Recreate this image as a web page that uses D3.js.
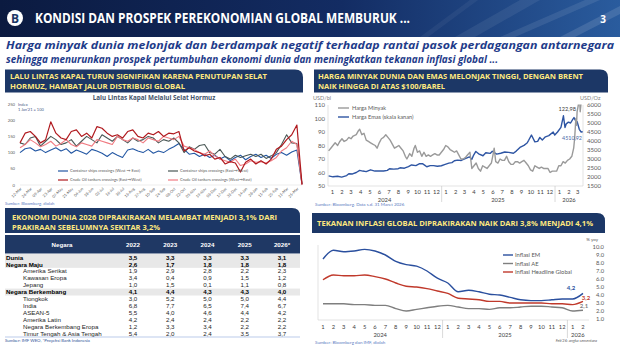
<!DOCTYPE html>
<html><head><meta charset="utf-8">
<script src="https://cdn.jsdelivr.net/npm/d3@7"></script>
<style>body{margin:0;background:#fff}svg{display:block}</style>
</head><body>
<svg id="c" width="620" height="349"></svg>
<script>
// ---------------- DATA ----------------
// Top-left: ship traffic through Hormuz (index, 1 Jan'21 = 100), weekly
const shipLabels = ["12-Mar","26-Mar","09-Apr","23-Apr","07-May","21-May","04-Jun","18-Jun","02-Jul","16-Jul","30-Jul","13-Aug","27-Aug","10-Sep","24-Sep","08-Oct","22-Oct","05-Nov","19-Nov","03-Dec","17-Dec","31-Dec","14-Jan","28-Jan","11-Feb","25-Feb","11-Mar","25-Mar"];
const containerWE = [100,112,115,105,110,100,108,115,105,112,98,108,102,95,110,105,98,88,100,92,85,108,112,105,100,110,98,105,100,110,118,128,110,95,98,88,95,85,92,80,88,75,85,92,78,88,95,85,92,82,95,100,92,102,108,2];
const containerEW = [130,125,145,150,120,135,150,140,125,130,140,120,135,150,140,130,155,145,135,150,140,130,145,135,140,150,145,130,140,135,145,130,100,118,110,122,125,100,95,110,88,80,92,85,90,95,88,95,82,90,100,125,155,130,128,3];
const crudeEW = [130,160,165,150,130,140,195,160,145,140,165,170,150,160,145,180,175,160,150,155,145,165,170,150,145,160,155,165,150,160,158,165,105,115,105,100,90,95,80,85,65,72,68,40,70,80,65,75,65,80,110,120,140,155,185,2];
const crudeWE = [115,125,140,130,118,125,135,120,128,140,125,118,130,125,120,140,135,130,125,150,140,135,145,140,130,145,140,135,150,145,140,150,120,115,110,100,95,105,90,80,75,70,80,60,65,75,70,72,68,75,85,105,115,135,125,0];
const shipSeriesNames = ["Container ships crossings (West \u2192 East)","Container ships crossings (East\u2192West)","Crude Oil tankers crossings (East\u2192West)","Crude Oil tankers crossings (West\u2192East)"];
const shipTicks = [0,50,100,150,200,250];

// Top-right: oil (USD/bl) and gold (USD/Oz)
const oilDates = ["2024-01-03","2024-01-10","2024-01-17","2024-01-24","2024-02-01","2024-02-08","2024-02-15","2024-02-22","2024-03-01","2024-03-08","2024-03-15","2024-03-22","2024-04-01","2024-04-08","2024-04-12","2024-04-19","2024-04-26","2024-05-03","2024-05-10","2024-05-17","2024-05-24","2024-06-01","2024-06-07","2024-06-14","2024-06-21","2024-06-28","2024-07-05","2024-07-12","2024-07-19","2024-07-26","2024-08-02","2024-08-09","2024-08-16","2024-08-23","2024-08-30","2024-09-06","2024-09-11","2024-09-20","2024-09-27","2024-10-04","2024-10-08","2024-10-15","2024-10-22","2024-10-29","2024-11-05","2024-11-12","2024-11-19","2024-11-26","2024-12-03","2024-12-10","2024-12-17","2024-12-24","2024-12-31","2025-01-07","2025-01-14","2025-01-21","2025-01-28","2025-02-04","2025-02-11","2025-02-18","2025-02-25","2025-03-04","2025-03-11","2025-03-18","2025-03-25","2025-04-02","2025-04-08","2025-04-15","2025-04-22","2025-04-29","2025-05-06","2025-05-13","2025-05-20","2025-05-27","2025-06-03","2025-06-10","2025-06-16","2025-06-19","2025-06-24","2025-07-01","2025-07-08","2025-07-15","2025-07-22","2025-07-29","2025-08-05","2025-08-12","2025-08-19","2025-08-26","2025-09-02","2025-09-09","2025-09-16","2025-09-23","2025-09-30","2025-10-07","2025-10-14","2025-10-21","2025-10-28","2025-11-04","2025-11-11","2025-11-18","2025-11-25","2025-12-02","2025-12-09","2025-12-16","2025-12-23","2025-12-30","2026-01-06","2026-01-13","2026-01-20","2026-01-27","2026-02-03","2026-02-10","2026-02-17","2026-02-24","2026-03-02","2026-03-05","2026-03-09","2026-03-11","2026-03-13","2026-03-17","2026-03-19","2026-03-23","2026-03-26","2026-03-31"];
const oilPrice = [76,78,80,82,80,83,85,83,84,86,85,87,88,91,92,88,89,84,83,82,81,80,78,82,85,86,88,86,84,81,78,79,80,78,76,72,70,74,72,78,80,75,76,72,75,72,73,72,73,74,73,73,75,77,80,79,77,76,75,76,73,70,70,71,73,75,63,65,67,63,61,65,64,63,65,67,74,78,68,67,70,69,69,72,68,66,66,68,68,67,68,69,67,65,62,61,65,64,63,64,63,63,63,60,61,61,61,65,65,68,67,69,70,72,78,85,100,95,105,110,122.98,105,112,118];
const goldDates = ["2024-01-03","2024-01-17","2024-02-01","2024-02-14","2024-03-01","2024-03-08","2024-03-20","2024-04-01","2024-04-12","2024-04-22","2024-05-03","2024-05-17","2024-05-31","2024-06-14","2024-06-28","2024-07-10","2024-07-17","2024-07-31","2024-08-14","2024-08-20","2024-09-03","2024-09-16","2024-09-26","2024-10-10","2024-10-22","2024-10-31","2024-11-07","2024-11-14","2024-11-25","2024-12-06","2024-12-18","2024-12-31","2025-01-10","2025-01-24","2025-02-03","2025-02-11","2025-02-21","2025-03-05","2025-03-14","2025-03-31","2025-04-08","2025-04-14","2025-04-21","2025-04-30","2025-05-14","2025-05-23","2025-06-06","2025-06-13","2025-06-27","2025-07-10","2025-07-23","2025-08-05","2025-08-20","2025-08-29","2025-09-10","2025-09-23","2025-10-03","2025-10-08","2025-10-17","2025-10-28","2025-11-06","2025-11-13","2025-11-21","2025-12-01","2025-12-12","2025-12-26","2025-12-31","2026-01-09","2026-01-20","2026-01-28","2026-02-02","2026-02-06","2026-02-13","2026-02-20","2026-02-27","2026-03-03","2026-03-09","2026-03-13","2026-03-20","2026-03-26","2026-03-31"];
const goldPrice = [2060,2010,2040,1995,2080,2180,2170,2250,2370,2330,2300,2400,2330,2330,2330,2370,2460,2440,2460,2510,2490,2580,2670,2630,2740,2740,2660,2570,2630,2630,2600,2625,2690,2770,2800,2900,2940,2920,2990,3120,2980,3220,3420,3290,3180,3350,3310,3430,3270,3320,3390,3370,3320,3440,3640,3760,3890,4040,4330,3950,3980,4200,4060,4230,4300,4500,4330,4500,4760,5400,4750,4950,5050,5000,5200,5300,5100,5080,4650,4500,4510.92];
const oilTicks = [50,60,70,80,90,100,110];
const goldTicks = [1500,2000,2500,3000,3500,4000,4500,5000,5500,6000];
const priceMonths = ["2024-01","2024-02","2024-03","2024-04","2024-05","2024-06","2024-07","2024-08","2024-09","2024-10","2024-11","2024-12","2025-01","2025-02","2025-03","2025-04","2025-05","2025-06","2025-07","2025-08","2025-09","2025-10","2025-11","2025-12","2026-01","2026-02","2026-03"];

// Bottom-left: IMF growth table
const tableYears = ["2022","2023","2024","2025","2026*"];
const tableRows = ["Dunia","Negara Maju","Amerika Serikat","Kawasan Eropa","Jepang","Negara Berkembang","Tiongkok","India","ASEAN-5","Amerika Latin","Negara Berkembang Eropa","Timur Tengah & Asia Tengah"];
const tableBold = ["Dunia","Negara Maju","Negara Berkembang"];
const tableValues = [
  [3.5,3.3,3.3,3.3,3.1],
  [2.6,1.7,1.8,1.8,1.8],
  [1.9,2.9,2.8,2.2,2.3],
  [3.4,0.4,0.9,1.5,1.2],
  [1.0,1.5,0.1,1.1,0.8],
  [4.1,4.4,4.3,4.3,4.0],
  [3.0,5.2,5.0,5.0,4.4],
  [6.8,7.7,6.5,7.4,6.7],
  [5.5,4.0,4.6,4.4,4.2],
  [4.2,2.4,2.4,2.2,2.2],
  [1.2,3.3,3.4,2.2,2.2],
  [5.4,2.0,2.4,3.5,3.7]
];

// Bottom-right: inflation (% yoy), monthly Jan 2024 - Feb 2026
const inflMonths = ["1","2","3","4","5","6","7","8","9","10","11","12","1","2","3","4","5","6","7","8","9","10","11","12","1","2"];
const inflYears = ["2024","2025","2026"];
const inflEM = [8.5,9.6,9.4,9.5,9.7,9.5,9.0,8.2,7.8,7.6,7.0,6.1,5.5,4.4,4.6,4.4,4.1,4.0,3.7,3.4,3.3,3.3,3.4,3.5,3.5,4.2];
const inflAE = [2.9,2.9,2.9,2.8,2.8,2.7,2.7,2.3,2.0,2.2,2.4,2.6,2.7,2.5,2.3,2.3,2.2,2.4,2.4,2.5,2.6,2.6,2.5,2.4,2.0,2.1];
const inflHeadline = [5.9,6.5,6.4,6.4,6.5,6.3,6.0,5.5,5.1,5.0,4.8,4.5,4.2,3.6,3.5,3.4,3.2,3.2,3.0,3.0,3.0,3.0,2.9,2.9,2.8,3.2];
const inflNames = ["Inflasi EM","Inflasi AE","Inflasi Headline Global"];
const inflTicks = [1,2,3,4,5,6,7,8,9,10];

// ---------------- DRAWING ----------------
const svg = d3.select("#c");
const NAVY = "#1c3766", GOLD = "#ffe97f";
const HF = "'Open Sans', sans-serif", TF = "'Liberation Sans', Arial, sans-serif", CF = "Lato, 'Open Sans', sans-serif";
const comma = d3.formatLocale({decimal:",",thousands:".",grouping:[3],currency:["",""]});
const f1 = comma.format(".1f"), f2 = comma.format(".2f");

function fitText(g, x, y, s, len, o) {
  const t = g.append("text").attr("x", x).attr("y", y).text(s)
    .attr("font-family", o.family || HF).attr("font-size", o.size).attr("font-weight", o.weight || 400)
    .attr("fill", o.fill || "#000");
  if (o.style) t.attr("font-style", o.style);
  if (len) t.attr("textLength", len).attr("lengthAdjust", o.adjust || "spacingAndGlyphs");
  return t;
}
function headerBox(x, y, w, h, r, lines) {
  svg.append("path").attr("d", `M${x},${y}H${x+w-r}Q${x+w},${y} ${x+w},${y+r}V${y+h}H${x}Z`).attr("fill", NAVY);
  lines.forEach(l => fitText(svg, l.x, l.y, l.t, l.len, {size:7.6, weight:700, fill:GOLD}));
}

// Top banner
const defs = svg.append("defs");
const lg = defs.append("linearGradient").attr("id","ban").attr("x1",0).attr("x2",1).attr("y1",0).attr("y2",0);
lg.append("stop").attr("offset","0%").attr("stop-color","#0b1a40");
lg.append("stop").attr("offset","55%").attr("stop-color","#132c63");
lg.append("stop").attr("offset","100%").attr("stop-color","#2a5c9e");
svg.append("rect").attr("x",0).attr("y",0).attr("width",620).attr("height",37).attr("fill","url(#ban)");
[["455,37 520,0 540,0 475,37",0.07],["500,37 585,0 600,0 515,37",0.09],["560,37 620,6 620,14 575,37",0.12],["420,37 470,0 478,0 428,37",0.05]]
  .forEach(p => svg.append("polygon").attr("points",p[0]).attr("fill","#ffffff").attr("opacity",p[1]));
svg.append("circle").attr("cx",15).attr("cy",18).attr("r",8).attr("fill","#fff");
svg.append("text").attr("x",15).attr("y",22.5).attr("text-anchor","middle").attr("font-family",HF).attr("font-weight",700).attr("font-size",12).attr("fill",NAVY).text("B");
fitText(svg, 35, 23, "KONDISI DAN PROSPEK PEREKONOMIAN GLOBAL MEMBURUK ...", 375, {size:13.5, weight:700, fill:"#fff"});
svg.append("text").attr("x",603).attr("y",23).attr("text-anchor","middle").attr("font-family",HF).attr("font-weight",700).attr("font-size",10).attr("fill","#fff").text("3");

// Subtitle
fitText(svg, 6, 49, "Harga minyak dunia melonjak dan berdampak negatif terhadap rantai pasok perdagangan antarnegara", 608, {size:11, weight:700, style:"italic", fill:"#1f3c8a"});
fitText(svg, 6, 63, "sehingga menurunkan prospek pertumbuhan ekonomi dunia dan meningkatkan tekanan inflasi global ...", 492, {size:11, weight:700, style:"italic", fill:"#1f3c8a"});

// Section headers
headerBox(5, 69.5, 298, 23, 8, [{x:10,y:78.5,t:"LALU LINTAS KAPAL TURUN SIGNIFIKAN KARENA PENUTUPAN SELAT",len:257},{x:10,y:89,t:"HORMUZ, HAMBAT JALUR DISTRIBUSI GLOBAL",len:175}]);
headerBox(314, 69.5, 294, 23, 8, [{x:318,y:78.5,t:"HARGA MINYAK DUNIA DAN EMAS MELONJAK TINGGI, DENGAN BRENT",len:265},{x:318,y:89,t:"NAIK HINGGA DI ATAS $100/BAREL",len:127}]);
headerBox(5, 208, 295, 25, 8, [{x:12,y:220,t:"EKONOMI DUNIA 2026 DIPRAKIRAKAN MELAMBAT MENJADI 3,1% DARI",len:265},{x:12,y:229.5,t:"PRAKIRAAN SEBELUMNYA SEKITAR 3,2%",len:148}]);
headerBox(312, 213, 293, 20, 8, [{x:317,y:225.5,t:"TEKANAN INFLASI GLOBAL DIPRAKIRAKAN NAIK DARI 3,8% MENJADI 4,1%",len:276}]);

// ---------- Top-left chart ----------
{
  const g = svg.append("g");
  const x = d3.scaleLinear().domain([0, containerWE.length - 1]).range([20, 302]);
  const y = d3.scaleLinear().domain([0, 250]).range([185, 104]);
  g.append("text").attr("x",154).attr("y",99.5).attr("text-anchor","middle").attr("font-family",HF).attr("font-weight",700).attr("font-size",6.3).attr("fill","#44546a").text("Lalu Lintas Kapal Melalui Selat Hormuz");
  g.selectAll(".yt").data(shipTicks).join("text").attr("x",15).attr("y",d=>y(d)+1.5).attr("text-anchor","end")
    .attr("font-family",CF).attr("font-size",4.2).attr("fill","#595959").text(d=>d);
  g.append("text").attr("x",18).attr("y",105.5).attr("font-family",CF).attr("font-size",4).attr("fill","#4a5a8a").text("Index");
  g.append("text").attr("x",18).attr("y",110.5).attr("font-family",CF).attr("font-size",4).attr("fill","#4a5a8a").text("1 Jan'21 = 100");
  g.append("line").attr("x1",20).attr("x2",302).attr("y1",y(0)).attr("y2",y(0)).attr("stroke","#d9d9d9").attr("stroke-width",0.5);
  const series = [
    {v: containerWE, c: "#2357a3", w: 1.1},
    {v: containerEW, c: "#4a5856", w: 1.1},
    {v: crudeWE, c: "#f07b82", w: 1.1},
    {v: crudeEW, c: "#b0191e", w: 1.2}
  ];
  const line = d3.line().x((d,i)=>x(i)).y(d=>y(d));
  series.forEach(s => g.append("path").attr("d", line(s.v)).attr("fill","none").attr("stroke",s.c).attr("stroke-width",s.w).attr("stroke-linejoin","round"));
  shipLabels.forEach((lab, k) => {
    const px = x(k * 2);
    g.append("text").attr("transform",`translate(${px+2},${189}) rotate(-45)`).attr("text-anchor","end")
      .attr("font-family",CF).attr("font-size",3.8).attr("fill","#595959").text(lab);
  });
  const leg = [
    {n: shipSeriesNames[0], c:"#2357a3", lx:58, ly:171},
    {n: shipSeriesNames[1], c:"#4a5856", lx:168, ly:171},
    {n: shipSeriesNames[2], c:"#b0191e", lx:58, ly:180},
    {n: shipSeriesNames[3], c:"#f07b82", lx:168, ly:180}
  ];
  leg.forEach(l => {
    g.append("line").attr("x1",l.lx).attr("x2",l.lx+10).attr("y1",l.ly).attr("y2",l.ly).attr("stroke",l.c).attr("stroke-width",1.2);
    g.append("text").attr("x",l.lx+12).attr("y",l.ly+1.4).attr("font-family",CF).attr("font-size",4).attr("fill","#595959").text(l.n);
  });
  g.append("text").attr("x",5).attr("y",205).attr("font-family",CF).attr("font-size",4.2).attr("fill","#5b7bbf").text("Sumber: Bloomberg, diolah");
}

// ---------- Top-right chart ----------
{
  const g = svg.append("g");
  const parse = d3.timeParse("%Y-%m-%d"), pm = d3.timeParse("%Y-%m");
  const x = d3.scaleTime().domain([new Date(2024,0,1), new Date(2026,3,1)]).range([328, 583]);
  const yO = d3.scaleLinear().domain([50,110]).range([186,105]);
  const yG = d3.scaleLinear().domain([1500,6000]).range([186,105]);
  defs.append("clipPath").attr("id","clipTR").append("rect").attr("x",326).attr("y",104.5).attr("width",260).attr("height",83);
  g.append("text").attr("x",313).attr("y",99.5).attr("font-family",CF).attr("font-size",5.5).attr("fill","#7f7f7f").text("USD/bl");
  g.append("text").attr("x",580).attr("y",99.5).attr("font-family",CF).attr("font-size",5.5).attr("fill","#7f7f7f").text("USD/Oz");
  g.selectAll(".lo").data(oilTicks).join("text").attr("x",325).attr("y",d=>yO(d)+2).attr("text-anchor","end")
    .attr("font-family",CF).attr("font-size",6).attr("fill","#595959").text(d=>d);
  g.selectAll(".rg").data(goldTicks).join("text").attr("x",587).attr("y",d=>yG(d)+2).attr("text-anchor","start")
    .attr("font-family",CF).attr("font-size",6).attr("fill","#595959").text(d=>d);
  g.append("path").attr("d","M328,105V186H583V105").attr("fill","none").attr("stroke","#d0d0d0").attr("stroke-width",0.6);
  priceMonths.forEach(m => {
    const d0 = pm(m), mid = new Date(d0.getFullYear(), d0.getMonth(), 15);
    g.append("text").attr("x",x(mid)).attr("y",194).attr("text-anchor","middle").attr("font-family",CF).attr("font-size",5.8).attr("fill","#404040").text(d0.getMonth()+1);
  });
  [new Date(2025,0,1), new Date(2026,0,1)].forEach(d => g.append("line").attr("x1",x(d)).attr("x2",x(d)).attr("y1",186).attr("y2",202).attr("stroke","#bfbfbf").attr("stroke-width",0.6));
  [["2024",new Date(2024,6,1)],["2025",new Date(2025,6,1)],["2026",new Date(2026,1,15)]].forEach(a =>
    g.append("text").attr("x",x(a[1])).attr("y",201.5).attr("text-anchor","middle").attr("font-family",CF).attr("font-size",5.8).attr("fill","#404040").text(a[0]));
  const cg = g.append("g").attr("clip-path","url(#clipTR)");
  cg.append("path").attr("d", d3.line().x((d,i)=>x(parse(goldDates[i]))).y(d=>yG(d))(goldPrice)).attr("fill","none").attr("stroke","#2e55a3").attr("stroke-width",1.4).attr("stroke-linejoin","round");
  cg.append("path").attr("d", d3.line().x((d,i)=>x(parse(oilDates[i]))).y(d=>yO(d))(oilPrice)).attr("fill","none").attr("stroke","#9a9a9a").attr("stroke-width",1.4).attr("stroke-linejoin","round");
  [["Harga Minyak","#9a9a9a",108],["Harga Emas (skala kanan)","#2e55a3",117]].forEach(l => {
    g.append("line").attr("x1",338).attr("x2",349).attr("y1",l[2]).attr("y2",l[2]).attr("stroke",l[1]).attr("stroke-width",1.4);
    g.append("text").attr("x",352).attr("y",l[2]+2).attr("font-family",CF).attr("font-size",5.6).attr("fill","#595959").text(l[0]);
  });
  g.append("text").attr("x",576).attr("y",111).attr("text-anchor","end").attr("font-family",CF).attr("font-size",5.6).attr("fill","#404040").text(f2(d3.max(oilPrice)));
  g.append("text").attr("x",582).attr("y",140).attr("text-anchor","end").attr("font-family",CF).attr("font-size",5.4).attr("fill","#4a6aa8").text(f2(goldPrice[goldPrice.length-1]));
  g.append("text").attr("x",315).attr("y",206).attr("font-family",CF).attr("font-size",4.5).attr("fill","#5b7bbf").text("Sumber: Bloomberg. Data s.d. 31 Maret 2026");
}

// ---------- Bottom-left table ----------
{
  const g = svg.append("g");
  const yb = d3.scaleBand().domain(tableRows).range([254, 337]);
  const xc = d3.scalePoint().domain(tableYears).range([133, 282]);
  g.append("rect").attr("x",5).attr("y",235).attr("width",295).attr("height",18.5).attr("fill","#1f3864");
  g.append("text").attr("x",62).attr("y",246.5).attr("text-anchor","middle").attr("font-family",TF).attr("font-weight",700).attr("font-size",6.2).attr("fill","#fff").text("Negara");
  tableYears.forEach(yr => g.append("text").attr("x",xc(yr)).attr("y",246.5).attr("text-anchor","middle").attr("font-family",TF).attr("font-weight",700).attr("font-size",6.2).attr("fill","#fff").text(yr));
  tableRows.forEach((r, i) => {
    const bold = tableBold.includes(r);
    if (bold) g.append("rect").attr("x",5).attr("y",yb(r)).attr("width",295).attr("height",yb.bandwidth()).attr("fill","#e8e8e8");
    const ty = yb(r) + yb.bandwidth()/2 + 2.2;
    g.append("text").attr("x", bold ? 6 : 23).attr("y",ty).attr("font-family",TF).attr("font-weight",bold?700:400).attr("font-size",6.2).attr("fill", bold ? "#000" : "#262626").text(r);
    tableValues[i].forEach((v, j) => g.append("text").attr("x",xc(tableYears[j])).attr("y",ty).attr("text-anchor","middle")
      .attr("font-family",TF).attr("font-weight",bold?700:400).attr("font-size",6.2).attr("fill", bold ? "#000" : "#262626").text(f1(v)));
  });
  g.append("line").attr("x1",5).attr("x2",300).attr("y1",337).attr("y2",337).attr("stroke","#8ea9db").attr("stroke-width",0.6);
  g.append("text").attr("x",5).attr("y",341.5).attr("font-family",CF).attr("font-size",4.3).attr("fill","#2f5597").text("Sumber: IMF WEO, *Proyeksi Bank Indonesia");
}

// ---------- Bottom-right chart ----------
{
  const g = svg.append("g");
  const x = d3.scaleLinear().domain([0, inflMonths.length-1]).range([323, 583]);
  const y = d3.scaleLinear().domain([1,10]).range([319, 247]);
  g.append("text").attr("x",598).attr("y",240.5).attr("text-anchor","end").attr("font-family",CF).attr("font-size",4.5).attr("fill","#595959").text("% yoy");
  g.selectAll(".it").data(inflTicks).join("text").attr("x",604).attr("y",d=>y(d)+2).attr("text-anchor","end")
    .attr("font-family",CF).attr("font-size",5.8).attr("fill","#595959").text(d=>d3.format(".1f")(d));
  g.append("path").attr("d","M318,245V320H589").attr("fill","none").attr("stroke","#d0d0d0").attr("stroke-width",0.6);
  inflMonths.forEach((m,i) => g.append("text").attr("x",x(i)).attr("y",329).attr("text-anchor","middle").attr("font-family",CF).attr("font-size",5.8).attr("fill","#404040").text(m));
  [11.5, 23.5].forEach(v => g.append("line").attr("x1",x(v)).attr("x2",x(v)).attr("y1",320).attr("y2",338).attr("stroke","#bfbfbf").attr("stroke-width",0.6));
  [[inflYears[0],5.5],[inflYears[1],17.5],[inflYears[2],24.5]].forEach(a =>
    g.append("text").attr("x",x(a[1])).attr("y",337).attr("text-anchor","middle").attr("font-family",CF).attr("font-size",5.8).attr("fill","#404040").text(a[0]));
  const line = d3.line().x((d,i)=>x(i)).y(d=>y(d)).curve(d3.curveMonotoneX);
  const ser = [[inflAE,"#7f7f7f"],[inflHeadline,"#c0392b"],[inflEM,"#2a4f9e"]];
  ser.forEach(s => g.append("path").attr("d",line(s[0])).attr("fill","none").attr("stroke",s[1]).attr("stroke-width",1.4));
  [[inflNames[0],"#2a4f9e",255],[inflNames[1],"#7f7f7f",263.5],[inflNames[2],"#c0392b",272]].forEach(l => {
    g.append("line").attr("x1",503).attr("x2",513).attr("y1",l[2]).attr("y2",l[2]).attr("stroke",l[1]).attr("stroke-width",1.4);
    g.append("text").attr("x",515).attr("y",l[2]+2).attr("font-family",CF).attr("font-size",5.8).attr("fill","#595959").text(l[0]);
  });
  const n = inflEM.length - 1;
  g.append("text").attr("x",571).attr("y",y(inflEM[n])-3).attr("text-anchor","middle").attr("font-family",CF).attr("font-weight",700).attr("font-size",6).attr("fill","#2a4f9e").text(f1(inflEM[n]));
  g.append("text").attr("x",586).attr("y",y(inflHeadline[n])-1).attr("text-anchor","middle").attr("font-family",CF).attr("font-weight",700).attr("font-size",6).attr("fill","#c0392b").text(f1(inflHeadline[n]));
  g.append("text").attr("x",584).attr("y",y(inflAE[n])-2).attr("text-anchor","middle").attr("font-family",CF).attr("font-weight",700).attr("font-size",6).attr("fill","#7f7f7f").text(f1(inflAE[n]));
  g.append("text").attr("x",315).attr("y",343.5).attr("font-family",CF).attr("font-size",4.5).attr("fill","#5b7bbf").text("Sumber: Bloomberg dan IMF, diolah");
  g.append("text").attr("x",597).attr("y",342).attr("text-anchor","end").attr("font-family",CF).attr("font-style","italic").attr("font-size",4).attr("fill","#595959").text("Feb'26: angka sementara");
}
</script>
</body></html>
